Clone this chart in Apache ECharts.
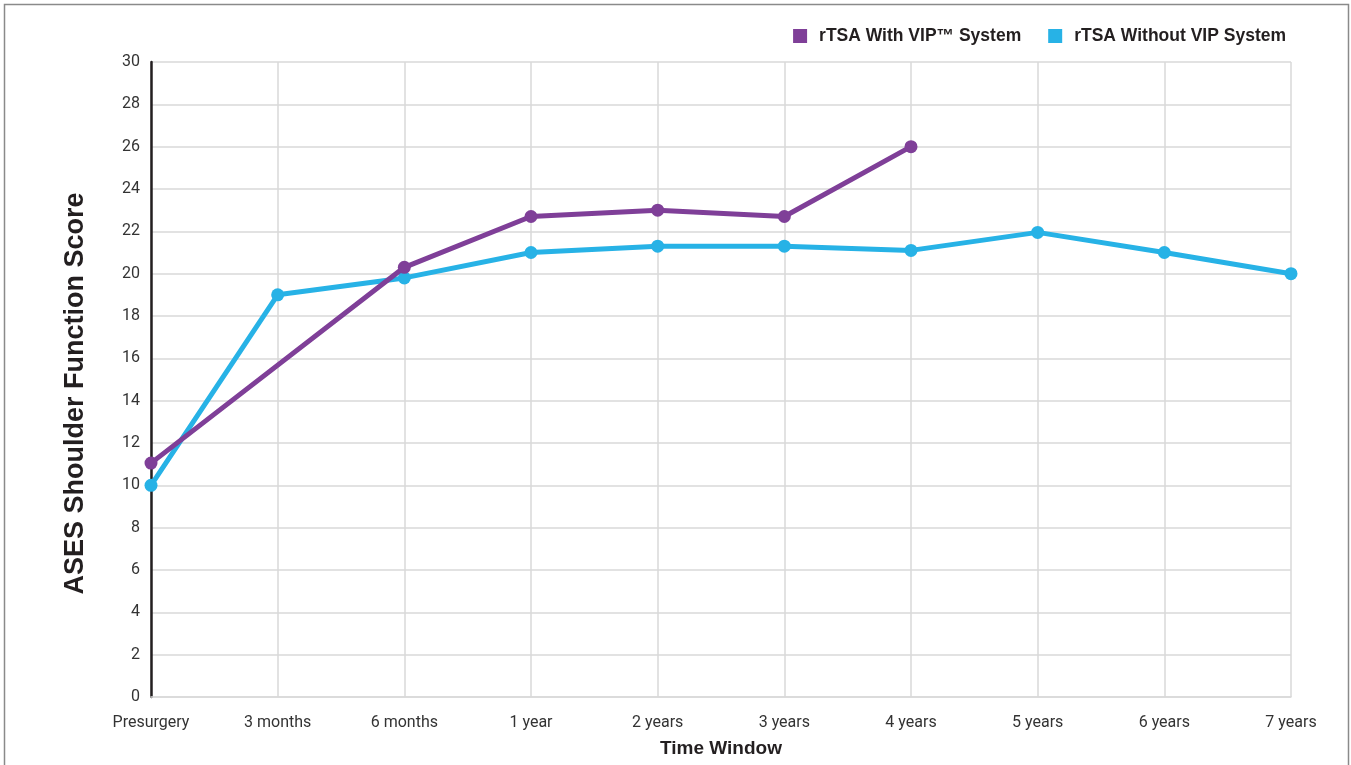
<!DOCTYPE html>
<html>
<head>
<meta charset="utf-8">
<script src="https://cdn.jsdelivr.net/npm/echarts@6/dist/echarts.min.js"></script>
<style>
  html, body { margin: 0; padding: 0; background: #fff; }
  #main { width: 1351px; height: 765px; }
</style>
</head>
<body>
<div id="main"></div>
<script>
var categories = ['Presurgery', '3 months', '6 months', '1 year', '2 years', '3 years', '4 years', '5 years', '6 years', '7 years'];
var withVip = [11.05, null, 20.3, 22.7, 23.0, 22.7, 26.0, null, null, null];
var withoutVip = [10.0, 19.0, 19.8, 21.0, 21.3, 21.3, 21.1, 21.95, 21.0, 20.0];
var seriesNames = ['rTSA With VIP\u2122 System', 'rTSA Without VIP System'];

~function () {
    var myChart = echarts.init(document.getElementById('main'));
    var boldFont = 'Liberation Sans';
    var option = {
        backgroundColor: '#fff',
        color: ['#7f3f98', '#27b2e6'],
        graphic: [
            {
                type: 'rect',
                shape: {x: 4.5, y: 4.5, width: 1344, height: 770},
                style: {fill: 'none', stroke: '#8a8a8a', lineWidth: 1.5},
                silent: true
            }
        ],
        legend: {
            data: seriesNames,
            right: 60,
            top: 22,
            itemWidth: 14,
            itemHeight: 14,
            itemGap: 27,
            icon: 'rect',
            textStyle: {
                fontFamily: boldFont,
                fontWeight: 'bold',
                fontSize: 17.5,
                color: '#231f20',
                padding: [0, 0, 0, 7]
            }
        },
        grid: {
            left: 151,
            right: 60,
            top: 62,
            bottom: 68,
            outerBoundsMode: 'none'
        },
        xAxis: [
            {
                type: 'category',
                data: categories,
                boundaryGap: false,
                name: 'Time Window',
                nameLocation: 'middle',
                nameGap: 42,
                nameTextStyle: {
                    fontFamily: boldFont,
                    fontWeight: 'bold',
                    fontSize: 19,
                    color: '#231f20'
                },
                axisLine: {lineStyle: {color: '#d9d9d9', width: 1.5}},
                axisTick: {show: false},
                splitLine: {show: true, lineStyle: {color: '#d9d9d9', width: 1.5}},
                axisLabel: {
                    interval: 0,
                    margin: 18,
                    fontFamily: 'Roboto',
                    fontSize: 16,
                    color: '#333'
                }
            }
        ],
        yAxis: [
            {
                type: 'value',
                min: 0,
                max: 30,
                interval: 2,
                name: 'ASES Shoulder Function Score',
                nameLocation: 'middle',
                nameGap: 62,
                nameTextStyle: {
                    fontFamily: boldFont,
                    fontWeight: 'bold',
                    fontSize: 27,
                    color: '#231f20',
                    padding: [0, 28, 0, 0]
                },
                axisLine: {show: true, lineStyle: {color: '#231f20', width: 2.5}},
                axisTick: {show: false},
                splitLine: {lineStyle: {color: '#d9d9d9', width: 1.5}},
                axisLabel: {
                    margin: 11,
                    fontFamily: 'Roboto',
                    fontSize: 16,
                    color: '#333'
                }
            }
        ],
        series: [
            {
                name: seriesNames[0],
                type: 'line',
                data: withVip,
                connectNulls: true,
                symbol: 'circle',
                symbolSize: 13,
                lineStyle: {width: 5},
                z: 3
            },
            {
                name: seriesNames[1],
                type: 'line',
                data: withoutVip,
                symbol: 'circle',
                symbolSize: 13,
                lineStyle: {width: 5},
                z: 2
            }
        ]
    };
    myChart.setOption(option);
}();
</script>
</body>
</html>
